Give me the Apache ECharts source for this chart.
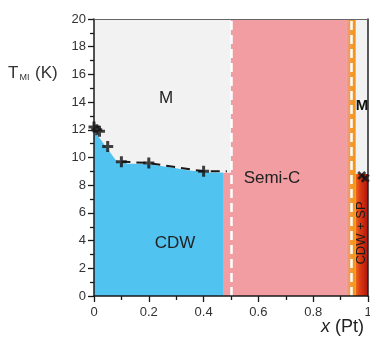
<!DOCTYPE html>
<html><head><meta charset="utf-8">
<script src="https://cdn.jsdelivr.net/npm/echarts@6/dist/echarts.min.js"></script>
<style>html,body{margin:0;padding:0;background:#fff}#c{width:370px;height:339px}</style>
</head><body><div id="c"></div>
<script>
// Data
var boundaryX = [0, 0.01, 0.02, 0.05, 0.1, 0.2, 0.4];
var boundaryT = [12.2, 12.0, 11.9, 10.8, 9.7, 9.6, 9.0];
var dashX = [0.1, 0.2, 0.4, 0.485];
var dashT = [9.7, 9.6, 9.0, 9.0];
var cdwEdgeX = [0, 0.02, 0.05, 0.1, 0.2, 0.4, 0.47];
var cdwEdgeT = [11.8, 11.4, 10.6, 9.6, 9.5, 8.95, 8.9];
var crossX = [0.977, 0.99];
var crossT = [8.7, 8.5];
var phaseBounds = [0.5, 0.945];           // white dashed lines
var semiC = {x0: 0.5, x1: 0.92, xLow0: 0.47, tLow: 8.9};
var orangeStrip = {x0: 0.92, x1: 0.955};
var cdwSp = {x0: 0.955, x1: 1, t1: 8.8};
var cdwDark = {x0: 0.458, x1: 0.47, t1: 8.9};
var xTicks = ['0', '0.2', '0.4', '0.6', '0.8', '1'];
var yTicks = ['0','2','4','6','8','10','12','14','16','18','20'];

function pairs(xs, ys) { return xs.map(function (x, i) { return [x, ys[i]]; }); }

var plusPath = 'path://M4,0h3v4h4v3h-4v4h-3v-4h-4v-3h4z';
var font = "'Liberation Sans', Arial, sans-serif";

var chart = echarts.init(document.getElementById('c'), null, {renderer: 'canvas'});
chart.setOption({
  animation: false,
  grid: {left: 94, right: 2, top: 19, bottom: 43, show: true, backgroundColor: '#f2f2f2', borderWidth: 0,
         containLabel: false, outerBoundsMode: 'none'},
  xAxis: [{
    type: 'value', min: 0, max: 1, interval: 0.2, z: 10,
    axisLine: {show: true, onZero: false, lineStyle: {color: '#1a1a1a', width: 1.5}},
    axisTick: {show: true, length: 6, lineStyle: {color: '#1a1a1a', width: 1.3}},
    minorTick: {show: true, splitNumber: 2, length: 4, lineStyle: {color: '#1a1a1a', width: 1.3}},
    splitLine: {show: false},
    axisLabel: {fontSize: 13, color: '#333', margin: 10, fontFamily: font,
      formatter: function (v) { return xTicks[Math.round(v / 0.2)]; }}
  }, {
    type: 'value', min: 0, max: 1, position: 'top', z: 10,
    axisLine: {show: true, onZero: false, lineStyle: {color: '#666', width: 1.2}},
    axisTick: {show: false}, axisLabel: {show: false}, splitLine: {show: false}
  }],
  yAxis: [{
    type: 'value', min: 0, max: 20, interval: 2, z: 10,
    axisLine: {show: true, onZero: false, lineStyle: {color: '#1a1a1a', width: 1.5}},
    axisTick: {show: true, length: 6, lineStyle: {color: '#1a1a1a', width: 1.3}},
    minorTick: {show: true, splitNumber: 2, length: 4, lineStyle: {color: '#1a1a1a', width: 1.3}},
    splitLine: {show: false},
    axisLabel: {fontSize: 13, color: '#333', margin: 8, fontFamily: font,
      formatter: function (v) { return yTicks[Math.round(v / 2)]; }}
  }, {
    type: 'value', min: 0, max: 20, position: 'right', z: 10,
    axisLine: {show: true, onZero: false, lineStyle: {color: '#222', width: 1.5}},
    axisTick: {show: false}, axisLabel: {show: false}, splitLine: {show: false}
  }],
  series: [
    {
      type: 'line', name: 'regions', data: [], z: 1,
      markArea: {
        silent: true,
        data: [
          [{coord: [semiC.x0, 0], itemStyle: {color: '#f19da2'}}, {coord: [semiC.x1, 20]}],
          [{coord: [semiC.xLow0, 0], itemStyle: {color: '#f19da2'}}, {coord: [semiC.x0, semiC.tLow]}],
          [{coord: [orangeStrip.x0, 0], itemStyle: {color: {type: 'linear', x: 0, y: 0, x2: 1, y2: 0,
            colorStops: [{offset: 0, color: '#f19da2'}, {offset: 0.55, color: '#f39a2a'}, {offset: 1, color: '#f39418'}]}}},
           {coord: [orangeStrip.x1, 20]}],
          [{coord: [cdwSp.x0, 0], itemStyle: {color: {type: 'linear', x: 0, y: 0, x2: 1, y2: 0,
            colorStops: [{offset: 0, color: '#ee6a1c'}, {offset: 0.35, color: '#dc3a14'}, {offset: 1, color: '#b0140e'}]}}},
           {coord: [cdwSp.x1, cdwSp.t1]}],
          [{coord: [cdwDark.x0, 0], itemStyle: {color: '#3dbbe9'}}, {coord: [cdwDark.x1, cdwDark.t1]}]
        ]
      }
    },
    {
      type: 'line', name: 'CDW area', data: pairs(cdwEdgeX, cdwEdgeT), smooth: 0.35,
      symbol: 'none', lineStyle: {width: 0}, areaStyle: {color: '#50c3f0', opacity: 1}, z: 2
    },
    {
      type: 'line', name: 'bounds', data: [], z: 3,
      markLine: {
        silent: true, symbol: 'none', label: {show: false},
        lineStyle: {color: '#ffffff', width: 2.5, type: [9, 5]},
        data: phaseBounds.map(function (x) { return {xAxis: x}; })
      }
    },
    {
      type: 'line', name: 'dash', data: pairs(dashX, dashT), symbol: 'none', z: 4,
      lineStyle: {color: '#1a1a1a', width: 2, type: [9, 6]}
    },
    {
      type: 'scatter', name: 'T_MI', data: pairs(boundaryX, boundaryT), z: 5,
      symbol: plusPath, symbolSize: 11, itemStyle: {color: '#111'}
    },
    {
      type: 'scatter', name: 'T_MI Pt', data: pairs(crossX, crossT), z: 5,
      symbol: plusPath, symbolSize: 10, symbolRotate: 45, itemStyle: {color: '#111'}
    }
  ],
  graphic: [
    {type: 'text', left: 8, top: 65, style: {text: '{t|T}{s|MI}{t| (K)}', rich: {
      t: {fontSize: 17, fontFamily: font, fill: '#333'},
      s: {fontSize: 9, fontFamily: font, fill: '#333', verticalAlign: 'bottom', padding: [8, 1, 0, 1]}}}, z: 20},
    {type: 'text', left: 321, top: 318, style: {text: '{i|x}{t| (Pt)}', rich: {
      i: {fontSize: 18, fontFamily: font, fontStyle: 'italic', fill: '#222'},
      t: {fontSize: 18, fontFamily: font, fill: '#222'}}}, z: 20},
    {type: 'text', x: 166, y: 98, style: {text: 'M', fontSize: 17, fontFamily: font, fill: '#222', align: 'center', verticalAlign: 'middle'}, z: 20},
    {type: 'text', x: 272, y: 178, style: {text: 'Semi-C', fontSize: 17, fontFamily: font, fill: '#222', align: 'center', verticalAlign: 'middle'}, z: 20},
    {type: 'text', x: 175, y: 243, style: {text: 'CDW', fontSize: 17, fontFamily: font, fill: '#222', align: 'center', verticalAlign: 'middle'}, z: 20},
    {type: 'text', x: 362, y: 106, style: {text: 'M', fontSize: 15, fontWeight: 'bold', fontFamily: font, fill: '#111', align: 'center', verticalAlign: 'middle'}, z: 20},
    {type: 'text', x: 361, y: 233, rotation: Math.PI / 2, style: {text: 'CDW + SP', fontSize: 13, fontFamily: font, fill: '#1a1a1a', align: 'center', verticalAlign: 'middle'}, z: 20}
  ]
});
</script></body></html>
